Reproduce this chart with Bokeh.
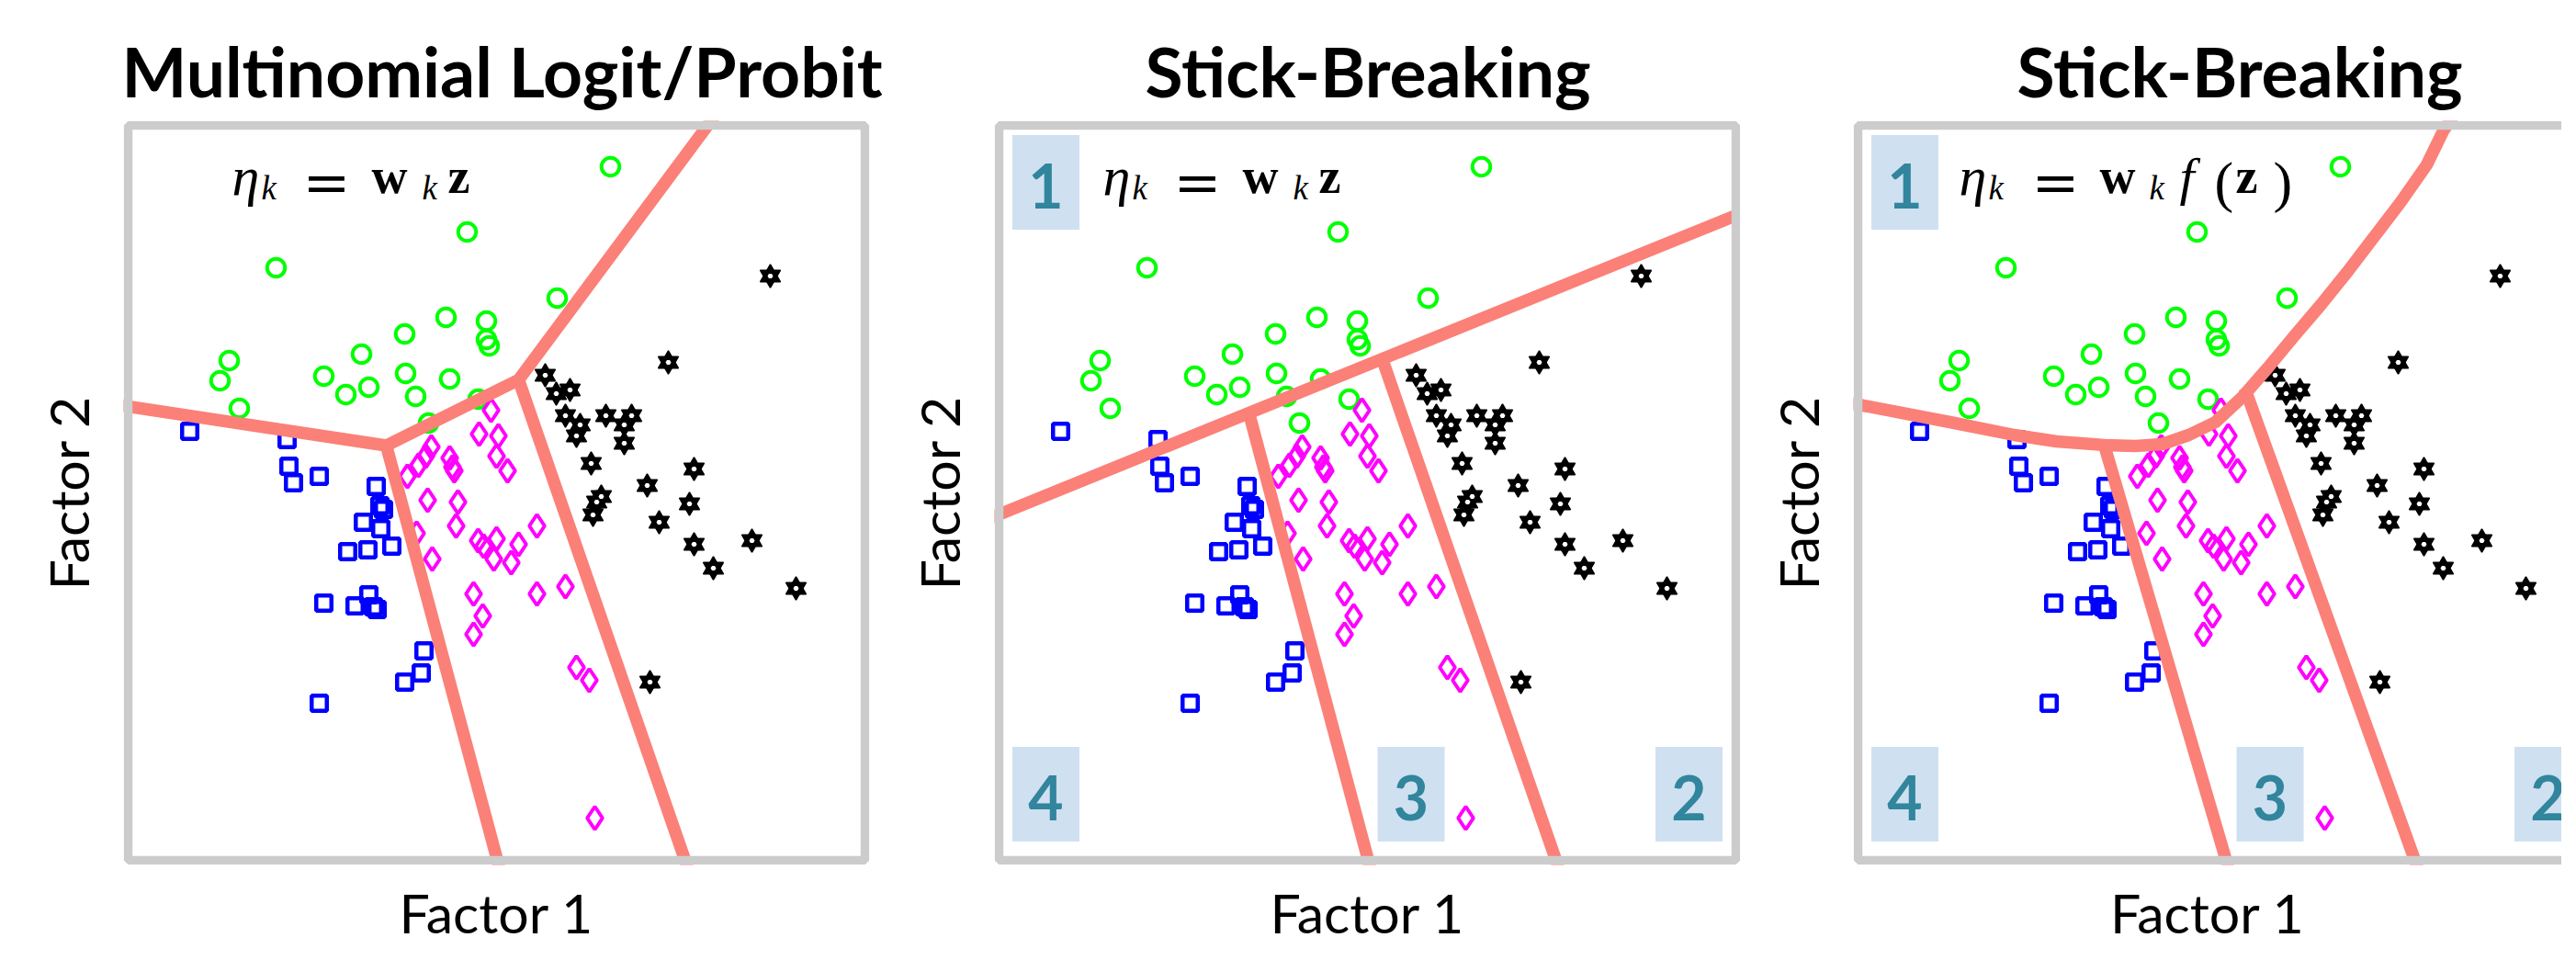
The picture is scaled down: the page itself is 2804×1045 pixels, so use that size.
from bokeh.plotting import figure
from bokeh.layouts import row
from bokeh.models import ColumnDataSource, BoxAnnotation, FixedTicker
from bokeh.core.properties import value, field
from bokeh.embed import file_html
from bokeh.resources import INLINE

# ---------------- data (Factor 1, Factor 2) ----------------
green_x = [525, 369, 161, 467, 346, 390, 390, 393, 301, 254, 110, 100, 121, 213, 262, 237, 302, 350, 313, 381, 327]
green_y = [755, 684, 645, 612, 591, 587, 567, 560, 573, 551, 544, 522, 492, 527, 515, 507, 530, 524, 505, 502, 476]

blue_x = [67, 173, 175, 180, 208, 270, 274, 278, 256, 275, 287, 239, 261, 213, 247, 262, 271, 267, 322, 319, 301, 208]
blue_y = [467, 458, 429, 411, 418, 407, 386, 382, 368, 361, 342, 336, 338, 280, 277, 289, 273, 276, 228, 204, 194, 171]

magenta_x = [395, 382, 403, 401, 413, 330, 324, 316, 304, 350, 353, 355, 326, 359, 357, 314, 381, 387, 401, 398,
             417, 425, 445, 331, 376, 386, 376, 445, 476, 488, 502, 508]
magenta_y = [490, 464, 462, 440, 424, 450, 440, 430, 418, 438, 428, 424, 392, 390, 364, 356, 348, 342, 350, 328,
             324, 344, 364, 328, 290, 266, 246, 290, 298, 210, 196, 46]

black_x = [699, 588, 454, 466, 481, 476, 492, 488, 520, 548, 540, 540, 504, 565, 616, 611, 515, 510, 506, 578,
           616, 679, 637, 727, 568]
black_y = [636, 542, 528, 508, 512, 484, 474, 462, 484, 484, 474, 454, 432, 408, 426, 388, 396, 390, 376, 368,
           344, 348, 318, 296, 194]

# class boundaries, panel 1 (multinomial)
p1_bx = [[-10, 281, 425, 642], [281, 404], [425, 609]]
p1_by = [[495.5, 451.5, 523, 815], [451.5, -8], [523, -8]]
# class boundaries, panel 2 (linear stick-breaking)
p2_bx = [[-10, 812], [272, 404], [417, 609]]
p2_by = [[372.5, 706], [487, -8], [546, -8]]
# class boundaries, panel 3 (nonlinear stick-breaking)
p3_bx = [[-10, 1, 100, 170, 216, 268, 302, 331, 360, 389, 418, 446, 475, 504, 533, 562, 591, 619, 637, 648],
         [268, 403], [421, 609]]
p3_by = [[497.5, 496, 477, 463, 456, 452, 451, 453, 463, 477, 504, 536, 571, 605, 641, 679, 717, 757, 794, 810],
         [452, -8], [514, -8]]

# region numbers (stick-breaking order)
region_labels = ["1", "4", "3", "2"]
region_x = [51, 51, 448.5, 751]
region_y = [738, 72, 72, 72]

# formulas
fa_text = ["η", "k", "=", "w", "k", "z"]
fa_x = [113, 145, 190, 265, 320, 348]
fa_y = [744.5, 732.5, 738.5, 744.5, 732.5, 744.5]
fa_font = ["Liberation Serif", "Liberation Serif", "DejaVu Serif", "Liberation Serif", "Liberation Serif", "Liberation Serif"]
fa_size = ["60px", "37px", "62px", "54px", "37px", "54px"]
fa_style = ["italic", "italic", "normal", "bold", "italic", "bold"]

fb_text = ["η", "k", "=", "w", "k", "f", "(", "z", ")"]
fb_x = [110, 142, 189, 263, 317, 350, 388, 411, 452]
fb_y = [744.5, 732.5, 738.5, 744.5, 732.5, 744.5, 739, 744.5, 739]
fb_font = ["Liberation Serif", "Liberation Serif", "DejaVu Serif", "Liberation Serif", "Liberation Serif",
           "Liberation Serif", "Liberation Serif", "Liberation Serif", "Liberation Serif"]
fb_size = ["60px", "37px", "62px", "54px", "37px", "58px", "62px", "54px", "62px"]
fb_style = ["italic", "italic", "normal", "bold", "italic", "italic", "normal", "bold", "normal"]

titles = ["Multinomial Logit/Probit", "Stick-Breaking", "Stick-Breaking"]

LINE_RED = "#fb8078"
BORDER = "#cccccc"
X_FULL = 802
Y_FULL = 800
PAD = 5  # frame extends this far beyond the border centre line


def make_panel(title, x_hi, min_left, min_right, bx, by, ftext, fx, fy, ffont, fsize, fstyle,
               numbers, title_offset):
    p = figure(frame_width=int(x_hi + PAD), frame_height=Y_FULL + 2 * PAD, x_range=(-PAD, x_hi),
               y_range=(-PAD, Y_FULL + PAD), output_backend="svg", toolbar_location=None,
               min_border_left=min_left, min_border_right=min_right,
               min_border_top=131, min_border_bottom=88,
               x_axis_label="Factor 1", y_axis_label="Factor 2")
    p.grid.visible = False
    p.background_fill_color = "white"
    p.border_fill_color = "white"
    p.outline_line_color = None
    for ax in (p.xaxis[0], p.yaxis[0]):
        ax.ticker = FixedTicker(ticks=[])
        ax.axis_line_color = None
        ax.major_tick_line_color = None
        ax.minor_tick_line_color = None
        ax.major_tick_out = 0
        ax.major_tick_in = 0
        ax.major_label_standoff = 0
        ax.major_label_text_font_size = "0px"
        ax.axis_label_text_font = "Lato"
        ax.axis_label_text_font_size = "59px"
        ax.axis_label_text_font_style = "normal"
        ax.axis_label_text_color = "black"
    p.xaxis.axis_label_standoff = 16
    p.yaxis.axis_label_standoff = 25

    p.title.text = title
    p.title.text_font = "Lato"
    p.title.text_font_style = "bold"
    p.title.text_font_size = "75px"
    p.title.text_color = "black"
    p.title.standoff = 20
    p.title.align = "left"
    p.title.offset = title_offset

    p.add_layout(BoxAnnotation(left=0, right=X_FULL, bottom=0, top=Y_FULL, fill_color=None, fill_alpha=0,
                               line_color=BORDER, line_alpha=1.0, line_width=9.5, line_dash="solid",
                               level="overlay"))

    if numbers:
        nsrc = ColumnDataSource(dict(x=region_x, y=region_y, t=region_labels))
        p.rect(x="x", y="y", width=73, height=103, source=nsrc, fill_color="#cfe0f1", line_color=None)
        p.text(x="x", y="y", text="t", source=nsrc, text_align="center", text_baseline="middle",
               y_offset=4, text_font=value("Lato"), text_font_style="bold", text_font_size="66px",
               text_color="#31859c")

    p.scatter(green_x, green_y, marker="circle", size=19.5, fill_color=None, line_color="#00ff00", line_width=4)
    p.scatter(blue_x, blue_y, marker="square", size=16.5, fill_color=None, line_color="#0000ff", line_width=4.5)
    p.scatter(magenta_x, magenta_y, marker="diamond", size=25, fill_color=None, line_color="#ff00ff", line_width=4)
    p.scatter(black_x, black_y, marker="triangle", size=22, fill_color="black", line_color="black", line_width=1.5)
    p.scatter(black_x, black_y, marker="inverted_triangle", size=22, fill_color="black", line_color="black",
              line_width=1.5)
    p.scatter(black_x, black_y, marker="hex", size=6, fill_color="white", line_color=None)

    p.multi_line(bx, by, line_color=LINE_RED, line_width=13.5, line_join="round", line_cap="butt")

    fsrc = ColumnDataSource(dict(x=fx, y=fy, t=ftext, font=ffont, size=fsize, style=fstyle))
    p.text(x="x", y="y", text="t", source=fsrc, text_font=field("font"), text_font_size=field("size"),
           text_font_style=field("style"), text_align="left", text_baseline="alphabetic", text_color="black")
    return p


# frame (incl. border) lefts on the page: 142, 1090, 2025
p1 = make_panel(titles[0], X_FULL + PAD, 134, 20, p1_bx, p1_by, fa_text, fa_x, fa_y, fa_font, fa_size, fa_style,
                False, -2)
p2 = make_panel(titles[1], X_FULL + PAD, 116, 0, p2_bx, p2_by, fa_text, fa_x, fa_y, fa_font, fa_size, fa_style,
                True, 164)
p3 = make_panel(titles[2], 766, 123, 0, p3_bx, p3_by, fb_text, fb_x, fb_y, fb_font, fb_size, fb_style,
                True, 178)

layout = row(p1, p2, p3)
open("out.html", "w").write(file_html(layout, INLINE))
